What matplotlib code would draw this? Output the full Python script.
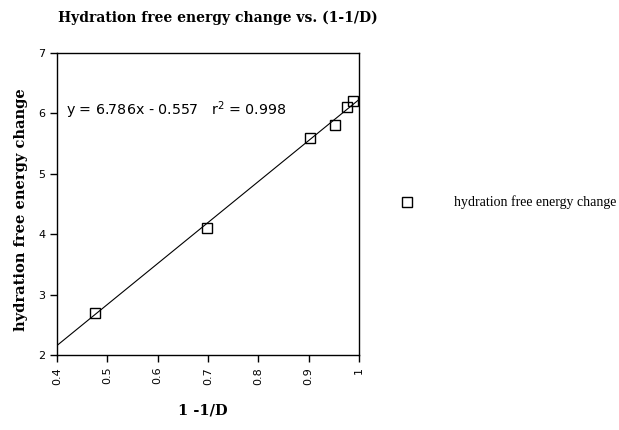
import matplotlib
matplotlib.use("Agg")
import matplotlib.pyplot as plt
import numpy as np

x_vals = [0.475, 0.698, 0.903, 0.952, 0.976, 0.988]
y_vals = [2.7, 4.1, 5.6, 5.8, 6.1, 6.2]
slope = 6.786
intercept = -0.557
r2 = 0.998
x_ticks = [0.4, 0.5, 0.6, 0.7, 0.8, 0.9, 1]
x_tick_labels = ["0.4", "0.5", "0.6", "0.7", "0.8", "0.9", "1"]
y_ticks = [2, 3, 4, 5, 6, 7]

fig = plt.figure(figsize=(6.19, 4.30), dpi=100)
ax = fig.add_axes([57/619, 1 - 355/430, (359 - 57)/619, (355 - 53)/430])

fit_x = np.array([0.4, 1.0])
ax.plot(fit_x, slope * fit_x + intercept, color="black", lw=0.8)
ax.plot(x_vals, y_vals, ls="none", marker="s", ms=7.5, mfc="none", mec="black", mew=1.0)

ax.set_xlim(0.4, 1.0)
ax.set_ylim(2, 7)
ax.set_xticks(x_ticks)
ax.set_xticklabels(x_tick_labels, rotation=90, fontsize=8, family="DejaVu Sans")
ax.set_yticks(y_ticks)
ax.set_yticklabels([str(v) for v in y_ticks], fontsize=8, family="DejaVu Sans")
ax.tick_params(direction="out", length=5, width=1, top=False, right=False)
for s in ax.spines.values():
    s.set_linewidth(1.0)

ax.text(0.03, 0.81, f"y = {slope}x - {abs(intercept)}   r$^2$ = {r2}", transform=ax.transAxes,
        fontsize=10.3, family="DejaVu Sans", ha="left", va="center")

fig.text(218/619, 1 - 18/430, "Hydration free energy change vs. (1-1/D)",
         ha="center", va="center", fontsize=10, fontweight="bold", family="DejaVu Serif")
fig.text(21/619, 1 - 210/430, "hydration free energy change", rotation=90,
         ha="center", va="center", fontsize=10.5, fontweight="bold", family="DejaVu Serif")
fig.text(203/619, 1 - 410/430, "1 -1/D", ha="center", va="center", fontsize=10.5,
         fontweight="bold", family="DejaVu Serif")

# legend
fig.lines.append(matplotlib.lines.Line2D([407/619], [1 - 202/430], transform=fig.transFigure,
                 ls="none", marker="s", ms=7, mfc="none", mec="black", mew=1.0))
fig.text(454/619, 1 - 202/430, "hydration free energy change", ha="left", va="center",
         fontsize=10, family="Liberation Serif")

fig.savefig("out.png", dpi=100, facecolor="white")
